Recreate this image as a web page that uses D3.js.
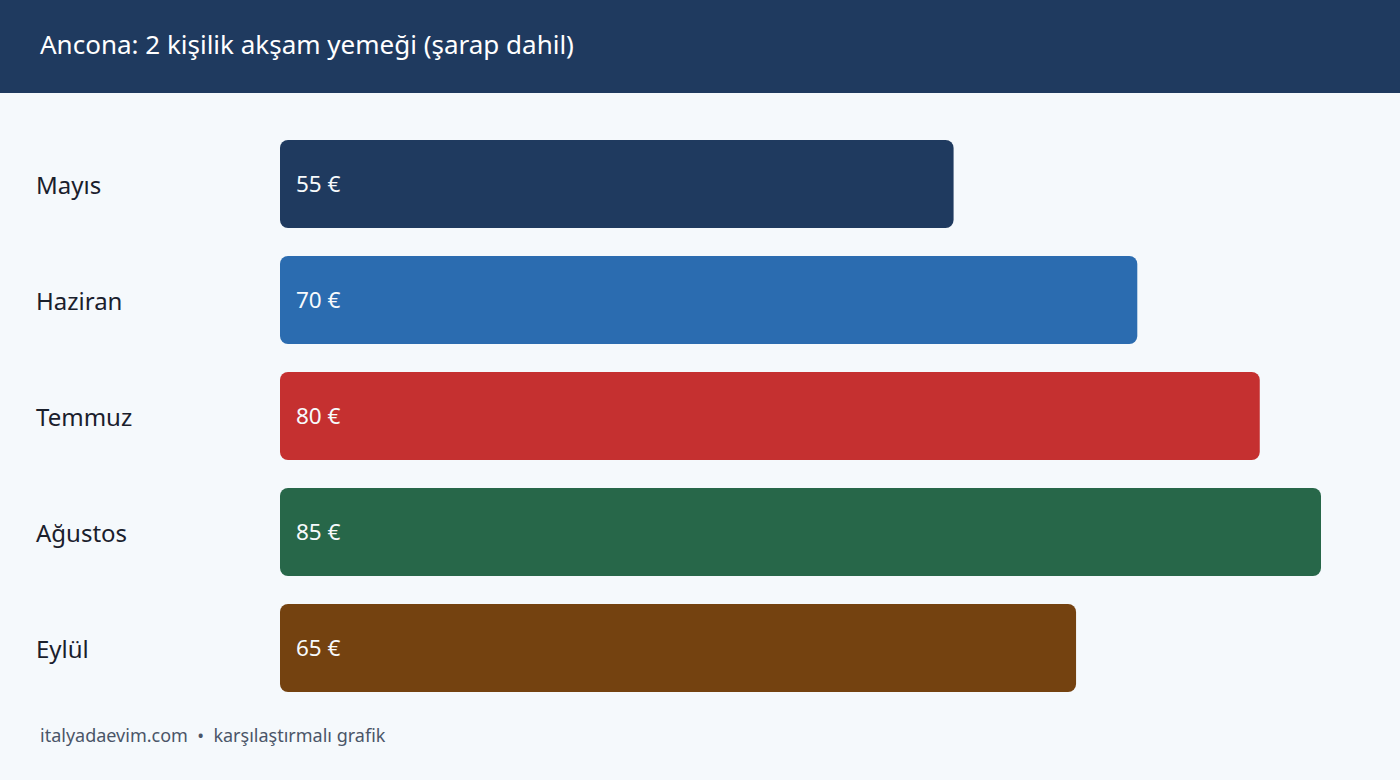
<!DOCTYPE html>
<html>
<head>
<meta charset="utf-8">
<script src="https://cdn.jsdelivr.net/npm/d3@7"></script>
<style>
  body { margin:0; background:#f5f9fc; font-family:"Noto Sans", "Open Sans", sans-serif; }
  .month-label { fill:#1a202c; font-size:24px; }
  .value-label { fill:#f7fafc; font-size:22.5px; }
  .title { fill:#ffffff; font-size:26px; }
  .footer { fill:#4a5568; font-size:18px; }
</style>
</head>
<body>
<div id="chart"></div>
<script>
// data
let months = ["Mayıs","Haziran","Temmuz","Ağustos","Eylül"];
let prices = [55, 70, 80, 85, 65];
let bar_colors = ["#1f3a5f","#2b6cb0","#c53030","#276749","#744210"];
let title_text = "Ancona: 2 kişilik akşam yemeği (şarap dahil)";
let footer_text = "italyadaevim.com  •  karşılaştırmalı grafik";

function renderChart(){
    let total_width = 1400;
    let total_height = 780;
    let header_height = 93;

    let svg = d3.select("#chart").append("svg")
        .attr("width", total_width)
        .attr("height", total_height);

    svg.append("rect")
        .attr("width", total_width)
        .attr("height", total_height)
        .attr("fill", "#f5f9fc");

    // header band
    svg.append("rect")
        .attr("width", total_width)
        .attr("height", header_height)
        .attr("fill", "#1f3a5f");
    svg.append("text")
        .attr("class","title")
        .attr("x", 40)
        .attr("y", header_height/2 - 2)
        .attr("dy", "0.35em")
        .text(title_text);

    let pad = 28/116;
    let y = d3.scaleBand()
        .domain(months)
        .range([126, 706])
        .paddingInner(pad)
        .paddingOuter(pad/2);

    let x = d3.scaleLinear()
        .domain([0, d3.max(prices)])
        .range([280, 1321]);

    let rows = months.map((m,i)=>({month:m, price:prices[i], color:bar_colors[i]}));

    let g = svg.append("g").selectAll("g").data(rows).enter().append("g");

    g.append("rect")
        .attr("x", x(0))
        .attr("y", d => y(d.month))
        .attr("width", d => x(d.price) - x(0))
        .attr("height", y.bandwidth())
        .attr("rx", 8)
        .attr("ry", 8)
        .attr("fill", d => d.color);

    g.append("text")
        .attr("class","month-label")
        .attr("x", 36)
        .attr("y", d => y(d.month) + y.bandwidth()/2 + 2)
        .attr("dy", "0.35em")
        .text(d => d.month);

    g.append("text")
        .attr("class","value-label")
        .attr("x", x(0) + 16)
        .attr("y", d => y(d.month) + y.bandwidth()/2)
        .attr("dy", "0.35em")
        .text(d => d.price + " €");

    svg.append("text")
        .attr("class","footer")
        .attr("x", 40)
        .attr("y", 736)
        .attr("dy", "0.35em")
        .attr("xml:space","preserve")
        .style("white-space","pre")
        .text(footer_text);
}

renderChart();
</script>
</body>
</html>
